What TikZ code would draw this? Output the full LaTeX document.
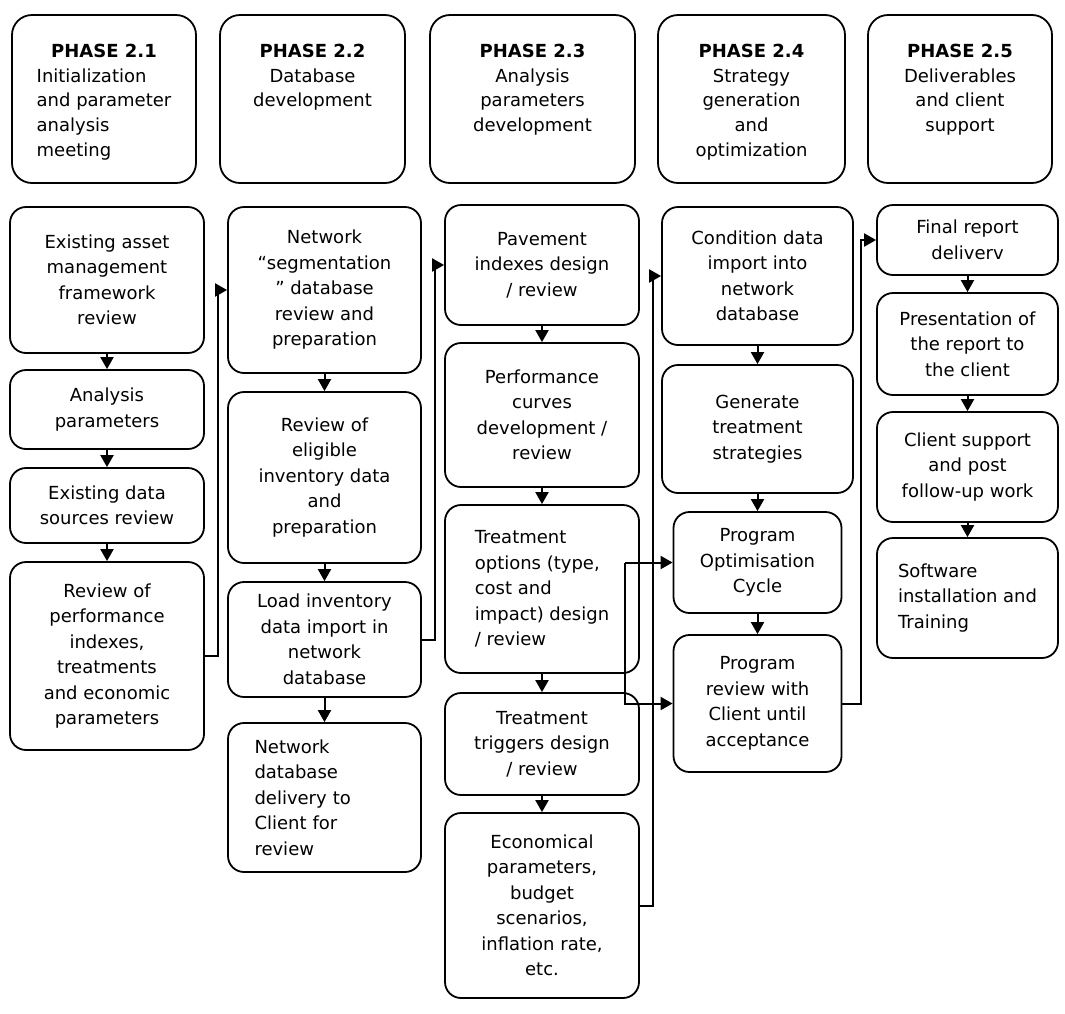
\documentclass[tikz,border=0pt]{standalone}
\usepackage{fontspec}
\setmainfont{DejaVu Sans}
\usetikzlibrary{scopes,arrows.meta}
\tikzset{
  mybox/.style={draw,rounded corners=8pt,line width=0.9pt,align=center,inner sep=2pt},
  myphase/.style={draw,rounded corners=10pt,line width=0.9pt,inner sep=0pt},
  colA/.style={mybox,minimum width=97pt},
  colB/.style={mybox,minimum width=96.5pt},
  colC/.style={mybox,minimum width=97pt},
  colD/.style={mybox,minimum width=95.5pt},
  colDn/.style={mybox,minimum width=84pt},
  colE/.style={mybox,minimum width=90.5pt},
  route/.style={line width=1pt,-{Triangle[length=6pt,width=6.5pt]}}
}
\newcommand{\phasetxt}[2]{\parbox[c][84pt][t]{#1}{\fontsize{9pt}{12.4pt}\selectfont
  \centering\vspace*{14.5pt}#2}}

\begin{document}
\begin{tikzpicture}[x=0.5pt,y=-0.5pt,font=\fontsize{9pt}{12.75pt}\selectfont]
  \useasboundingbox (0,0) rectangle (1065,1013);
  % phase headers
  \node[myphase] (ph1) at (104,99) {\phasetxt{92pt}{\textbf{PHASE 2.1}\\
    \begin{tabular}[t]{@{}l@{}}Initialization\\and parameter\\analysis\\meeting\end{tabular}}};
  \node[myphase] (ph2) at (312.5,99) {\phasetxt{92.5pt}{\textbf{PHASE 2.2}\\Database\\development}};
  \node[myphase] (ph3) at (532.5,99) {\phasetxt{102.5pt}{\textbf{PHASE 2.3}\\Analysis\\parameters\\development}};
  \node[myphase] (ph4) at (751.5,99) {\phasetxt{93.5pt}{\textbf{PHASE 2.4}\\Strategy\\generation\\and\\optimization}};
  \node[myphase] (ph5) at (960,99) {\phasetxt{92pt}{\textbf{PHASE 2.5}\\Deliverables\\and client\\support}};
  % phase 2.1
  \node[colA,minimum height=73pt] (a1) at (107,280) {Existing asset\\management\\framework\\review};
  \node[colA,minimum height=39.5pt] (a2) at (107,409.5) {Analysis\\parameters};
  \node[colA,minimum height=37.5pt] (a3) at (107,505.5) {Existing data\\sources review};
  \node[colA,minimum height=94pt] (a4) at (107,656) {Review of\\performance\\indexes,\\treatments\\and economic\\parameters};
  % phase 2.2
  \node[colB,minimum height=83pt] (b1) at (324.5,290) {Network\\“segmentation\\” database\\review and\\preparation};
  \node[colB,minimum height=85.5pt] (b2) at (324.5,477.5) {Review of\\eligible\\inventory data\\and\\preparation};
  \node[colB,minimum height=57.5pt] (b3) at (324.5,639.5) {Load inventory\\data import in\\network\\database};
  \node[colB,minimum height=74.5pt,align=left,text width=70pt] (b4) at (324.5,797.5) {Network\\database\\delivery to\\Client for\\review};
  % phase 2.3
  \node[colC,minimum height=60pt] (c1) at (542,265) {Pavement\\indexes design\\/ review};
  \node[colC,minimum height=72pt] (c2) at (542,415) {Performance\\curves\\development /\\review};
  \node[colC,minimum height=84pt,align=left] (c3) at (542,589) {Treatment\\options (type,\\cost and\\impact) design\\/ review};
  \node[colC,minimum height=51pt] (c4) at (542,744) {Treatment\\triggers design\\/ review};
  \node[colC,minimum height=92.5pt] (c5) at (542,905.5) {Economical\\parameters,\\budget\\scenarios,\\inflation rate,\\etc.};
  % phase 2.4
  \node[colD,minimum height=69pt] (d1) at (757.5,276) {Condition data\\import into\\network\\database};
  \node[colD,minimum height=64pt] (d2) at (757.5,429) {Generate\\treatment\\strategies};
  \node[colDn,minimum height=50.5pt] (d3) at (757.5,562.5) {Program\\Optimisation\\Cycle};
  \node[colDn,minimum height=68.5pt] (d4) at (757.5,703.5) {Program\\review with\\Client until\\acceptance};
  % phase 2.5
  \node[colE,minimum height=35pt] (e1) at (967.5,240) {Final report\\deliverv};
  \node[colE,minimum height=51pt] (e2) at (967.5,344) {Presentation of\\the report to\\the client};
  \node[colE,minimum height=55pt] (e3) at (967.5,467) {Client support\\and post\\follow-up work};
  \node[colE,minimum height=60pt,align=left] (e4) at (967.5,598) {Software\\installation and\\Training};
  \coordinate (fork) at (625,562.5);
  {[route]
    \foreach \a/\b in {a1/a2,a2/a3,a3/a4,b1/b2,b2/b3,b3/b4,c1/c2,c2/c3,c3/c4,c4/c5,
                       d1/d2,d2/d3,d3/d4,e1/e2,e2/e3,e3/e4}
      \draw (\a) -- (\b);
    \draw (a4.east) -- ++(13,0) |- (b1.west);
    \draw (b3.east) -- ++(13,0) |- (c1.west);
    \draw (c5.east) -- ++(13,0) |- (d1.west);
    \draw (d4.east) -- ++(19,0) |- (e1.west);
    \draw (fork) -- (d3.west);
    \draw (fork) |- (d4.west);
  }
\end{tikzpicture}
\end{document}
